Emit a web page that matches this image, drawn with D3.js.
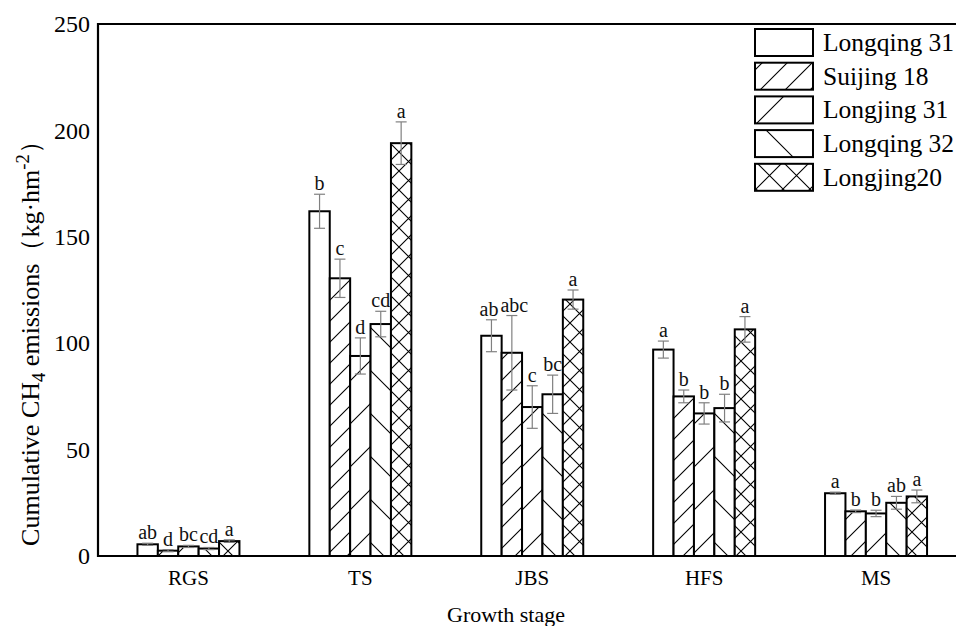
<!DOCTYPE html>
<html><head><meta charset="utf-8">
<script src="https://cdn.jsdelivr.net/npm/d3@7"></script>
<style>body{margin:0;background:#fff}svg{display:block}</style>
</head><body><svg id="c" width="956" height="626"></svg>
<script>
const stages = ["RGS","TS","JBS","HFS","MS"];
const cultivars = ["Longqing 31","Suijing 18","Longjing 31","Longqing 32","Longjing20"];
const patternTypes = ["none","fwd","fwdWide","backWide","cross"];
const meanLongqing31 = [5.5,162,103.5,97,29.5];
const meanSuijing18  = [2.5,130.5,95.5,75,21];
const meanLongjing31 = [4.5,94,70,67,20];
const meanLongqing32 = [3.5,109,76,69.5,25];
const meanLongjing20 = [7,194,120.5,106.5,28];
const errLongqing31 = [0.5,8,7.5,4,0.5];
const errSuijing18  = [0.5,9,17.5,3,0.6];
const errLongjing31 = [0.5,8.5,10,5,1.5];
const errLongqing32 = [0.5,6,9,6.5,3];
const errLongjing20 = [0.6,10,4.5,6,3];
const letLongqing31 = ["ab","b","ab","a","a"];
const letSuijing18  = ["d","c","abc","b","b"];
const letLongjing31 = ["bc","d","c","b","b"];
const letLongqing32 = ["cd","cd","bc","b","ab"];
const letLongjing20 = ["a","a","a","a","a"];
const yTicks = [0,50,100,150,200,250];

const means=[meanLongqing31,meanSuijing18,meanLongjing31,meanLongqing32,meanLongjing20];
const errs=[errLongqing31,errSuijing18,errLongjing31,errLongqing32,errLongjing20];
const lets=[letLongqing31,letSuijing18,letLongjing31,letLongqing32,letLongjing20];

const svg=d3.select("#c");
const FONT="'Liberation Serif','Times New Roman',serif";
const L=98, T=24, B=556, R=960;
const y=d3.scaleLinear().domain([0,250]).range([B,T]);
const x=d3.scaleBand().domain(stages).range([102.5,962]).padding(0);
const xi=d3.scaleBand().domain(cultivars).range([0,102]).padding(0);
const off=(x.bandwidth()-102)/2;

const defs=svg.append("defs");
function makePattern(id,type,s){
  const p=defs.append("pattern").attr("id",id).attr("patternUnits","userSpaceOnUse")
    .attr("width",s).attr("height",s);
  p.append("rect").attr("width",s).attr("height",s).attr("fill","#fff");
  let d="";
  if(type==="fwd"||type==="fwdWide"||type==="cross") d+=`M0,${s} L${s},0 M${-2},2 L2,-2 M${s-2},${s+2} L${s+2},${s-2}`;
  if(type==="backWide"||type==="cross") d+=` M0,0 L${s},${s} M${-2},${s-2} L2,${s+2} M${s-2},-2 L${s+2},2`;
  if(d) p.append("path").attr("d",d).attr("stroke","#000").attr("stroke-width",1.1).attr("fill","none");
}
patternTypes.forEach((t,i)=>{
  const s={none:10,fwd:21,fwdWide:43,backWide:43,cross:19}[t];
  makePattern("p"+i,t,s);
  const sl={none:10,fwd:25,fwdWide:55,backWide:53,cross:27}[t];
  makePattern("lp"+i,t,sl);
});
const fillOf=(i,leg)=>patternTypes[i]==="none"?"#fff":`url(#${leg?"lp":"p"}${i})`;

// bars
cultivars.forEach((c,ci)=>{
  const g=svg.append("g");
  stages.forEach((s,si)=>{
    const x0=x(s)+off+xi(c), w=xi.bandwidth(), v=means[ci][si];
    g.append("rect").attr("x",x0).attr("y",y(v)).attr("width",w).attr("height",y(0)-y(v))
      .attr("fill",fillOf(ci,false)).attr("stroke","#000").attr("stroke-width",2);
  });
});
// error bars & letters
cultivars.forEach((c,ci)=>{
  stages.forEach((s,si)=>{
    const cx=x(s)+off+xi(c)+xi.bandwidth()/2, v=means[ci][si], e=errs[ci][si];
    const g=svg.append("g").attr("stroke","#808080").attr("stroke-width",1.2);
    g.append("line").attr("x1",cx).attr("x2",cx).attr("y1",y(v-e)).attr("y2",y(v+e));
    [v-e,v+e].forEach(t=>g.append("line").attr("x1",cx-5.5).attr("x2",cx+5.5).attr("y1",y(t)).attr("y2",y(t)));
    const nudge=(s==="JBS"&&ci===0)?-2.5:(s==="JBS"&&ci===1)?2.5:0;
    svg.append("text").attr("x",cx+nudge).attr("y",y(v+e)-4).attr("text-anchor","middle")
      .attr("font-family",FONT).attr("font-size",20).attr("fill","#111").text(lets[ci][si]);
  });
});

// axes
const ya=svg.append("g").attr("transform",`translate(${L},0)`)
  .call(d3.axisLeft(y).tickValues(yTicks).tickSize(0).tickPadding(8));
ya.select(".domain").remove();
ya.selectAll("text").attr("font-family",FONT).attr("font-size",24).attr("fill","#000");
const xa=svg.append("g").attr("transform",`translate(0,${B})`)
  .call(d3.axisBottom(x).tickSize(0).tickPadding(14));
xa.select(".domain").remove();
xa.selectAll("text").attr("font-family",FONT).attr("font-size",21).attr("fill","#000");

svg.append("path").attr("d",`M${R},${T} L${L},${T} L${L},${B} L${R},${B}`)
  .attr("fill","none").attr("stroke","#000").attr("stroke-width",2.2);

// titles
svg.append("text").attr("x",506).attr("y",622).attr("text-anchor","middle")
  .attr("font-family",FONT).attr("font-size",22).text("Growth stage");
function yTitle(f){
  const yt=svg.append("text").attr("transform","translate(39,337) rotate(-90)").attr("text-anchor","middle")
    .attr("font-family",FONT).attr("font-size",f);
  const sub=f*0.72;
  yt.append("tspan").text("Cumulative CH");
  yt.append("tspan").attr("font-size",sub).attr("dy",f*0.23).text("4");
  yt.append("tspan").attr("dy",-f*0.23).text(" emissions（kg·hm");
  yt.append("tspan").attr("font-size",sub).attr("dy",-f*0.4).text("-2");
  yt.append("tspan").attr("dy",f*0.4).text("）");
  return yt;
}
let t0=yTitle(22);
const len=t0.node().getBBox().height>0?t0.node().getBBox().width:0;
if(len>0){ const f=Math.min(26,22*447/len); t0.remove(); yTitle(f); }

// legend
cultivars.forEach((c,i)=>{
  const ty=29+i*33.7;
  svg.append("rect").attr("x",755).attr("y",ty).attr("width",58).attr("height",27)
    .attr("fill",fillOf(i,true)).attr("stroke","#000").attr("stroke-width",2);
  svg.append("text").attr("x",823).attr("y",ty+22).attr("font-family",FONT).attr("font-size",25.5)
    .attr("fill","#000").text(c);
});
</script></body></html>
